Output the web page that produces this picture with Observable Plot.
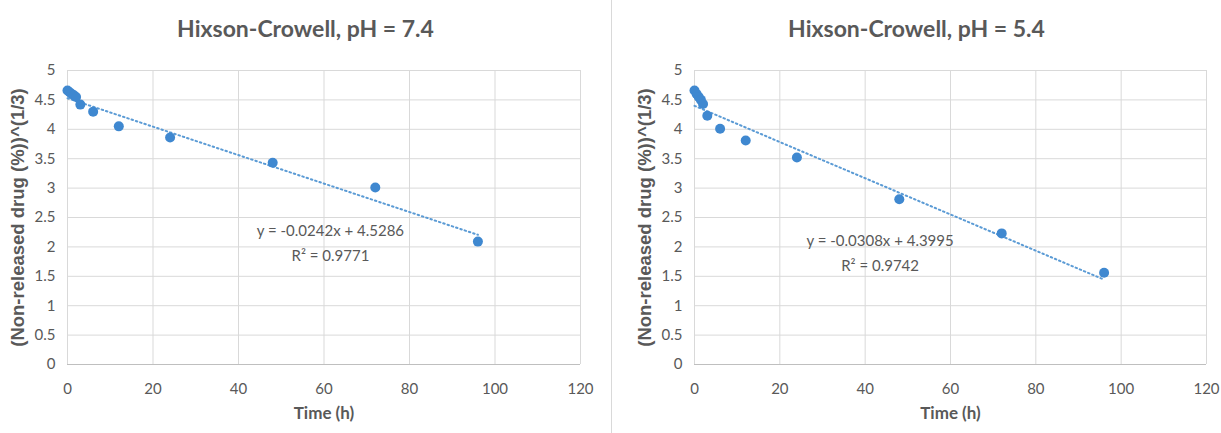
<!DOCTYPE html>
<html>
<head>
<meta charset="utf-8">
<script src="https://cdn.jsdelivr.net/npm/d3@7"></script>
<script src="https://cdn.jsdelivr.net/npm/@observablehq/plot@0.6"></script>
<style>
  html, body { margin: 0; padding: 0; background: #fff; }
  #wrap { display: flex; width: 1221px; height: 433px; overflow: hidden; }
  .panel { position: relative; }
  .title { height: 50px; line-height: 56px; text-align: center; font-family: Lato, "Open Sans", sans-serif; font-weight: bold; font-size: 23px; color: #595959; }
  #right { border-left: 1px solid #d9d9d9; }
</style>
</head>
<body>
<div id="wrap">
  <div class="panel" id="left"></div>
  <div class="panel" id="right"></div>
</div>
<script>
const times = [0, 0.5, 1, 1.5, 2, 3, 6, 12, 24, 48, 72, 96];
const ph74 = [4.66, 4.63, 4.60, 4.58, 4.55, 4.42, 4.30, 4.05, 3.86, 3.43, 3.01, 2.09];
const ph54 = [4.66, 4.60, 4.55, 4.50, 4.43, 4.23, 4.01, 3.81, 3.52, 2.81, 2.23, 1.56];
const titles = ["Hixson-Crowell, pH = 7.4", "Hixson-Crowell, pH = 5.4"];
const slopes = [-0.0242, -0.0308];
const intercepts = [4.5286, 4.3995];
const r2 = ["0.9771", "0.9742"];
const xTicks = [0, 20, 40, 60, 80, 100, 120];
const yTicks = [0, 0.5, 1, 1.5, 2, 2.5, 3, 3.5, 4, 4.5, 5];

const grey = "#595959";
const dotColor = "#3f88d0";
const lineColor = "#5b9bd5";

function makeChart(el, title, values, slope, intercept, r2txt, opts) {
  const t = document.createElement("div");
  t.className = "title";
  t.textContent = title;
  t.style.width = opts.width + "px";
  el.appendChild(t);
  const pts = times.map((x, i) => ({x, y: values[i]}));
  const trend = [times[0], times[times.length - 1]].map(x => ({x, y: slope * x + intercept}));
  const eqLabel = [
    {x: opts.eqX, y: opts.eqY, t: `y = ${slope}x + ${intercept}`},
    {x: opts.eqX, y: opts.eqY - 0.42, t: `R² = ${r2txt}`}
  ];
  const chart = Plot.plot({
    width: opts.width,
    height: 383,
    marginTop: 20,
    marginBottom: 69,
    marginLeft: opts.ml,
    marginRight: opts.mr,
    style: {fontFamily: "Lato, 'Open Sans', sans-serif", fontSize: "15px", color: grey, background: "#fff", overflow: "visible"},
    x: {domain: [0, 120], ticks: xTicks, label: null},
    y: {domain: [0, 5], ticks: yTicks, label: null},
    marks: [
      Plot.gridX(xTicks, {stroke: "#d9d9d9", strokeOpacity: 1}),
      Plot.gridY(yTicks, {stroke: "#d9d9d9", strokeOpacity: 1}),
      Plot.ruleY([0], {stroke: "#bfbfbf", strokeWidth: 1.2}),
      Plot.axisX({ticks: xTicks, tickSize: 0, tickPadding: 19, fontSize: 15, fill: grey, tickFormat: d => d}),
      Plot.axisY({ticks: yTicks, tickSize: 0, tickPadding: 12, fontSize: 15, fill: grey, tickFormat: d => d}),
      Plot.line(trend, {x: "x", y: "y", stroke: lineColor, strokeWidth: 2, strokeDasharray: "1.5,3", strokeLinecap: "round"}),
      Plot.dot(pts, {x: "x", y: "y", r: 5, fill: dotColor, stroke: "none"}),
      Plot.text(eqLabel, {x: "x", y: "y", text: "t", fill: grey, fontSize: 15, textAnchor: "middle"}),
      Plot.text(["Time (h)"], {frameAnchor: "bottom", dy: 54, fontWeight: "bold", fontSize: 17, fill: grey, fontFamily: "Lato, sans-serif"}),
      Plot.text(["(Non-released drug (%))^(1/3)"], {frameAnchor: "left", textAnchor: "middle", dx: opts.ylabDx, rotate: -90, fontWeight: "bold", fontSize: 18.5, fill: grey, fontFamily: "'Liberation Sans', Arial, sans-serif"})
    ]
  });
  el.appendChild(chart);
}

makeChart(document.getElementById("left"), titles[0], ph74, slopes[0], intercepts[0], r2[0],
  {width: 611, ml: 67, mr: 31, eqX: 61.5, eqY: 2.26, ylabDx: -49});
makeChart(document.getElementById("right"), titles[1], ph54, slopes[1], intercepts[1], r2[1],
  {width: 609, ml: 82, mr: 15, eqX: 43.5, eqY: 2.09, ylabDx: -49});
</script>
</body>
</html>
